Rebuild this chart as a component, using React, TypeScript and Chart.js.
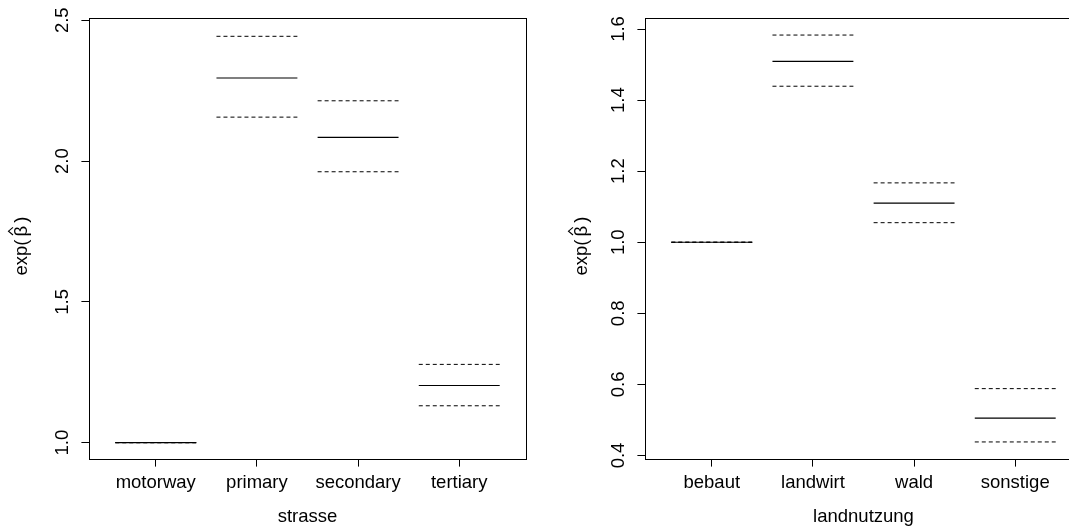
import React, { useEffect, useRef } from "react";
import { Chart, registerables } from "chart.js";

Chart.register(...registerables);

// ---- data ----
const strasseCats = ["motorway", "primary", "secondary", "tertiary"];
const strasseEst = [1.0, 2.295, 2.084, 1.203];
const strasseLower = [1.0, 2.156, 1.962, 1.131];
const strasseUpper = [1.0, 2.443, 2.214, 1.278];
const strasseYTicks = [1.0, 1.5, 2.0, 2.5];
const strasseYRange = [0.942, 2.508];

const landCats = ["bebaut", "landwirt", "wald", "sonstige"];
const landEst = [1.0, 1.509, 1.11, 0.505];
const landLower = [1.0, 1.439, 1.055, 0.438];
const landUpper = [1.0, 1.583, 1.167, 0.588];
const landYTicks = [0.4, 0.6, 0.8, 1.0, 1.2, 1.4, 1.6];
const landYRange = [0.39, 1.631];

const xRange = [0.34, 4.66];
const HALF = 0.4;

const FONT_FAMILY = "'Liberation Sans', Arial, Helvetica, sans-serif";
const FONT = { family: FONT_FAMILY, size: 18.5 };

const boxPlugin = {
  id: "box",
  afterDraw(chart: any) {
    const { ctx, chartArea } = chart;
    const l = Math.round(chartArea.left);
    const t = Math.round(chartArea.top);
    const r = Math.round(chartArea.right);
    const b = Math.round(chartArea.bottom);
    ctx.save();
    ctx.strokeStyle = "#000";
    ctx.lineWidth = 1;
    ctx.strokeRect(l + 0.5, t + 0.5, r - l, b - t);
    ctx.restore();
  },
};

// y-axis title exp(beta-hat), drawn as rotated text pieces like R plotmath
function makeYTitlePlugin(xMid: number) {
  return {
    id: "ytitle",
    afterDraw(chart: any) {
      const { ctx, chartArea } = chart;
      const cy = (chartArea.top + chartArea.bottom) / 2;
      ctx.save();
      ctx.fillStyle = "#000";
      ctx.font = `18.5px ${FONT_FAMILY}`;
      ctx.textBaseline = "middle";
      ctx.translate(xMid, cy);
      ctx.rotate(-Math.PI / 2);
      // in rotated frame: +u = screen up
      const start = -37;
      ctx.textAlign = "left";
      const w1 = ctx.measureText("exp(").width;
      ctx.fillText("exp(", start, 0);
      const bStart = start + w1 + 3;
      const wb = ctx.measureText("\u03B2").width;
      ctx.fillText("\u03B2", bStart, 0);
      ctx.fillText(")", bStart + wb + 3, 0);
      // hat over beta
      const bc = bStart + wb / 2;
      ctx.strokeStyle = "#000";
      ctx.lineWidth = 1.1;
      ctx.beginPath();
      ctx.moveTo(bc - 3.8, -9);
      ctx.lineTo(bc, -13.5);
      ctx.lineTo(bc + 3.8, -9);
      ctx.stroke();
      ctx.restore();
    },
  };
}

type PanelProps = {
  cats: string[];
  est: number[];
  lower: number[];
  upper: number[];
  yTicks: number[];
  yRange: number[];
  xTitle: string;
  left: number;
  titleX: number;
};

function seg(vals: number[]) {
  const out: any[] = [];
  vals.forEach((v, i) => {
    out.push({ x: i + 1 - HALF, y: v });
    out.push({ x: i + 1 + HALF, y: v });
    out.push({ x: i + 1.5, y: null });
  });
  return out;
}

function Panel({ cats, est, lower, upper, yTicks, yRange, xTitle, left, titleX }: PanelProps) {
  const ref = useRef<HTMLCanvasElement>(null);
  useEffect(() => {
    if (!ref.current) return;
    const common = { borderColor: "#000", pointRadius: 0, fill: false, spanGaps: false };
    const chart = new Chart(ref.current, {
      type: "line",
      data: {
        datasets: [
          { label: "estimate", data: seg(est), borderWidth: 1.2, ...common },
          { label: "lower", data: seg(lower), borderWidth: 1, borderDash: [4, 3], ...common },
          { label: "upper", data: seg(upper), borderWidth: 1, borderDash: [4, 3], ...common },
        ],
      },
      options: {
        animation: false,
        responsive: false,
        events: [],
        layout: { padding: { top: 18, right: 30, left: 0, bottom: 0 } },
        plugins: { legend: { display: false }, tooltip: { enabled: false } },
        scales: {
          x: {
            type: "linear",
            min: xRange[0],
            max: xRange[1],
            afterBuildTicks: (s: any) => {
              s.ticks = cats.map((_, i) => ({ value: i + 1 }));
            },
            afterFit: (s: any) => {
              s.height = 71;
            },
            ticks: {
              autoSkip: false,
              maxRotation: 0,
              minRotation: 0,
              color: "#000",
              font: FONT,
              padding: 5,
              callback: (v: any) => cats[Math.round(v) - 1] ?? "",
            },
            grid: { display: true, drawOnChartArea: false, drawTicks: true, tickLength: 7.6, color: "#000", lineWidth: 1 },
            border: { display: true, color: "#000", width: 1 },
            title: { display: true, text: xTitle, color: "#000", font: FONT, padding: { top: 0, bottom: 1.5 } },
          },
          y: {
            type: "linear",
            min: yRange[0],
            max: yRange[1],
            afterBuildTicks: (s: any) => {
              s.ticks = yTicks.map((v) => ({ value: v }));
            },
            afterFit: (s: any) => {
              s.width = 89;
            },
            ticks: {
              autoSkip: false,
              minRotation: 90,
              maxRotation: 90,
              crossAlign: "center",
              color: "#000",
              font: FONT,
              padding: 6,
              callback: (v: any) => Number(v).toFixed(1),
            },
            grid: { display: true, drawOnChartArea: false, drawTicks: true, tickLength: 7.6, color: "#000", lineWidth: 1 },
            border: { display: true, color: "#000", width: 1 },
            title: { display: false },
          },
        },
      } as any,
      plugins: [boxPlugin, makeYTitlePlugin(titleX)],
    });
    return () => chart.destroy();
  }, []);
  return (
    <canvas
      ref={ref}
      width={556}
      height={530}
      style={{ position: "absolute", left, top: 0, width: 556, height: 530 }}
    />
  );
}

export default function App() {
  return (
    <div
      style={{
        position: "fixed",
        left: 0,
        top: 0,
        width: 1069,
        height: 530,
        overflow: "hidden",
        background: "#fff",
      }}
    >
      <Panel
        cats={strasseCats}
        est={strasseEst}
        lower={strasseLower}
        upper={strasseUpper}
        yTicks={strasseYTicks}
        yRange={strasseYRange}
        xTitle="strasse"
        left={0}
        titleX={22}
      />
      <Panel
        cats={landCats}
        est={landEst}
        lower={landLower}
        upper={landUpper}
        yTicks={landYTicks}
        yRange={landYRange}
        xTitle="landnutzung"
        left={556}
        titleX={26}
      />
    </div>
  );
}
